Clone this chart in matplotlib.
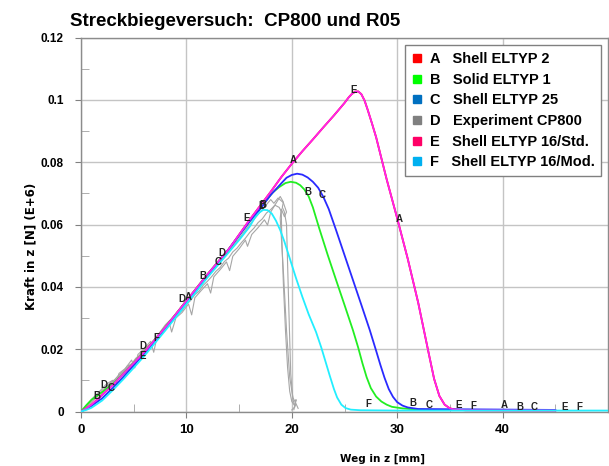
#Streckbiegeversuch plot
'''
Force over displacement for the stretch-bend test,
simulation curves A-F plus the experiment traces.
'''
import matplotlib
matplotlib.use('Agg')
import matplotlib.pyplot as plt
from matplotlib.lines import Line2D

# ---- simulation curves (Weg in mm, Kraft in E+6 N) ----
weg_e = [0, 0.5, 1, 1.5, 2, 3, 4, 5, 6, 8, 10, 12, 14, 16, 17, 18, 19, 20, 21, 22, 23, 24, 25,
         25.4, 25.7, 26.0, 26.3, 26.6, 26.9, 27.2, 27.6, 28, 29, 30, 31, 32, 33, 33.5, 34, 34.5,
         35, 35.5, 36.5, 45]
kraft_e = [0, 0.001, 0.0022, 0.0037, 0.0053, 0.0085, 0.012, 0.0155, 0.019, 0.027, 0.0355, 0.044,
           0.052, 0.0615, 0.066, 0.0705, 0.0752, 0.0795, 0.0835, 0.0873, 0.0912, 0.095, 0.099,
           0.1008, 0.1019, 0.1026, 0.1027, 0.1018, 0.0998, 0.0968, 0.0925, 0.088, 0.0745, 0.062,
           0.049, 0.0348, 0.0185, 0.0105, 0.005, 0.0022, 0.001, 0.0006, 0.0004, 0.0003]

# A lies right under E
weg_a = list(weg_e)
kraft_a = list(kraft_e)

weg_b = [0, 0.5, 1, 2, 3, 4, 5, 6, 8, 10, 12, 14, 16, 17, 17.6, 18.2, 18.8, 19.4, 19.9, 20.4,
         20.8, 21.2, 21.6, 22.0, 22.6, 23.4, 24.2, 25.0, 25.8, 26.3, 26.7, 27.1, 27.5, 28.0,
         28.5, 29.0, 29.5, 30.5, 32, 34]
kraft_b = [0, 0.002, 0.0038, 0.0062, 0.0088, 0.012, 0.0155, 0.019, 0.027, 0.0355, 0.044, 0.052,
           0.061, 0.065, 0.0678, 0.0703, 0.072, 0.0733, 0.0737, 0.0734, 0.0726, 0.0712, 0.069,
           0.0655, 0.0588, 0.0503, 0.0422, 0.0342, 0.0261, 0.0205, 0.0155, 0.011, 0.0075,
           0.0048, 0.0032, 0.0022, 0.0015, 0.001, 0.0006, 0.0005]

weg_c = [0, 0.5, 1, 2, 3, 4, 5, 6, 8, 10, 12, 14, 16, 17, 18, 19, 19.5, 20.0, 20.5, 21.0, 21.5,
         22.0, 22.5, 23.0, 23.5, 24.2, 25, 25.8, 26.6, 27.4, 28, 28.4, 28.8, 29.2, 29.6, 30.0,
         30.5, 31, 32, 45]
kraft_c = [0, 0.0008, 0.0018, 0.0042, 0.0075, 0.011, 0.0148, 0.0185, 0.0268, 0.0352, 0.0438,
           0.052, 0.061, 0.065, 0.0695, 0.0732, 0.075, 0.0759, 0.0763, 0.076, 0.0751, 0.0737,
           0.0718, 0.0688, 0.065, 0.0582, 0.0502, 0.0422, 0.0342, 0.0261, 0.0195, 0.015, 0.0108,
           0.0072, 0.0047, 0.003, 0.0019, 0.0013, 0.0008, 0.0005]

weg_f = [0, 0.5, 1, 2, 3, 4, 5, 6, 8, 10, 12, 14, 15, 16, 16.5, 16.9, 17.3, 17.7, 18.1, 18.5,
         18.9, 19.3, 19.8, 20.4, 21.0, 21.6, 22.3, 22.8, 23.2, 23.6, 24.0, 24.3, 24.7, 25.1,
         25.6, 26.5, 30, 50]
kraft_f = [0, 0.0005, 0.0012, 0.0035, 0.0068, 0.0103, 0.014, 0.0178, 0.026, 0.0345, 0.043, 0.051,
           0.055, 0.0593, 0.0622, 0.0638, 0.0647, 0.0646, 0.0635, 0.0612, 0.0582, 0.0545,
           0.0492, 0.0428, 0.0368, 0.0312, 0.0255, 0.0205, 0.016, 0.0115, 0.0072, 0.0045,
           0.0022, 0.0011, 0.0006, 0.0004, 0.0003, 0.0003]

# ---- experiment traces (D) ----
weg_d1 = [0, 0.4, 0.8, 1.2, 1.6, 2.0, 2.4, 2.8, 3.2, 3.6, 4.0, 4.4, 4.8, 5.2, 5.6, 6.0, 6.4, 6.8,
          7.2, 7.6, 8.0, 8.4, 8.8, 9.2, 9.6, 10.0, 10.4, 10.8, 11.2, 11.6, 12.0, 12.4, 12.8, 13.2,
          13.6, 14.0, 14.4, 14.8, 15.2, 15.6, 16.0, 16.4, 16.8, 17.2, 17.6, 18.0, 18.4, 18.8,
          19.0, 19.05, 19.2, 19.4, 19.6, 19.8, 20.0, 20.3, 20.4, 20.2]
kraft_d1 = [0, 0.0012, 0.0026, 0.004, 0.0052, 0.0068, 0.0079, 0.0093, 0.0102, 0.0118, 0.0128,
            0.0146, 0.0152, 0.0171, 0.018, 0.0198, 0.021, 0.0222, 0.0241, 0.025, 0.0268, 0.0282,
            0.0296, 0.0313, 0.0324, 0.0344, 0.0356, 0.0375, 0.0386, 0.0405, 0.0418, 0.0433,
            0.045, 0.0462, 0.0481, 0.0492, 0.0512, 0.0524, 0.0541, 0.0556, 0.0574, 0.0588,
            0.0606, 0.0618, 0.0637, 0.0648, 0.0662, 0.0655, 0.0642, 0.056, 0.041, 0.026, 0.014,
            0.0065, 0.0032, 0.0018, 0.0038, 0.0006]

weg_d2 = [0, 0.6, 1.2, 1.8, 2.4, 3.0, 3.3, 3.6, 4.2, 4.8, 5.1, 5.4, 6.0, 6.6, 6.9, 7.2, 7.8, 8.4,
          8.6, 9.0, 9.6, 10.2, 10.5, 10.8, 11.4, 12.0, 12.3, 12.6, 13.2, 13.8, 14.1, 14.4, 15.0,
          15.6, 15.8, 16.2, 16.8, 17.4, 17.7, 18.0, 18.5, 18.9, 19.2, 19.1, 19.3, 19.5, 19.7,
          19.9, 20.1, 20.3, 20.0]
kraft_d2 = [0, 0.0022, 0.0046, 0.0066, 0.0088, 0.01, 0.0082, 0.0122, 0.0138, 0.0165, 0.014,
            0.0183, 0.0202, 0.0225, 0.019, 0.0238, 0.0262, 0.0282, 0.0255, 0.03, 0.0318, 0.0345,
            0.031, 0.0365, 0.0388, 0.041, 0.038, 0.0432, 0.0455, 0.048, 0.0452, 0.0498, 0.0522,
            0.055, 0.053, 0.0568, 0.059, 0.0615, 0.0598, 0.064, 0.0668, 0.069, 0.0672, 0.0655,
            0.064, 0.06, 0.035, 0.012, 0.004, 0.0015, 0.0005]

weg_d3 = [0, 1, 2, 3, 4, 5, 6, 7, 8, 9, 10, 11, 12, 13, 14, 15, 16, 17, 17.5, 18.0, 18.3, 18.7,
          19.2, 19.5, 19.3, 19.0, 18.9, 19.2, 19.5, 19.8, 20.1, 20.4, 20.6]
kraft_d3 = [0, 0.003, 0.0062, 0.0095, 0.0128, 0.016, 0.0198, 0.0232, 0.0278, 0.0312, 0.0358,
            0.0392, 0.0438, 0.047, 0.0515, 0.0555, 0.06, 0.064, 0.066, 0.068, 0.0668, 0.0685,
            0.067, 0.064, 0.0625, 0.065, 0.062, 0.045, 0.026, 0.011, 0.0045, 0.0025, 0.001]

# letters written along the curves (letter, weg, kraft)
curve_tags = [('B', 1.5, 0.005), ('D', 2.2, 0.0085), ('C', 2.9, 0.0075),
              ('D', 5.85, 0.021), ('E', 5.85, 0.0178), ('F', 7.1, 0.0236),
              ('D', 9.6, 0.036), ('A', 10.15, 0.0367), ('B', 11.6, 0.0435),
              ('C', 13.0, 0.048), ('D', 13.4, 0.051), ('E', 15.7, 0.062),
              ('D', 17.2, 0.066), ('B', 17.25, 0.0662), ('A', 20.1, 0.0806),
              ('B', 21.5, 0.0705), ('C', 22.9, 0.0695), ('E', 25.9, 0.1031),
              ('A', 30.2, 0.0618),
              ('F', 27.3, 0.0024), ('B', 31.5, 0.0027), ('C', 33.0, 0.0022),
              ('E', 35.8, 0.0022), ('F', 37.2, 0.0019), ('A', 40.2, 0.0022),
              ('B', 41.6, 0.0016), ('C', 43.0, 0.0016), ('E', 45.9, 0.0016),
              ('F', 47.3, 0.0016)]

legend_names = ['A   Shell ELTYP 2', 'B   Solid ELTYP 1', 'C   Shell ELTYP 25',
                'D   Experiment CP800', 'E   Shell ELTYP 16/Std.', 'F   Shell ELTYP 16/Mod.']
legend_colors = ['#ff0000', '#00ff00', '#0070c0', '#808080', '#ff0066', '#00b0f0']

x_ticks = [0, 10, 20, 30, 40]
y_ticks = [0, 0.02, 0.04, 0.06, 0.08, 0.1, 0.12]
y_tick_labels = ['0', '0.02', '0.04', '0.06', '0.08', '0.1', '0.12']

fig = plt.figure(figsize=(6.09, 4.66), dpi=100)
ax = fig.add_axes([81 / 609, 1 - 411.5 / 466, 527 / 609, 374 / 466])

lw = 1.3
for wx, ky in [(weg_d1, kraft_d1), (weg_d2, kraft_d2), (weg_d3, kraft_d3)]:
    ax.plot(wx, ky, color='#a6a6a6', lw=0.8, zorder=2)
ax.plot(weg_a, kraft_a, color='#ff0000', lw=lw, zorder=3)
ax.plot(weg_b, kraft_b, color='#22ee22', lw=lw, zorder=4)
ax.plot(weg_c, kraft_c, color='#2a2aff', lw=lw, zorder=4)
ax.plot(weg_e, kraft_e, color='#ff22ee', lw=lw, zorder=5)
ax.plot(weg_f, kraft_f, color='#22eeff', lw=lw, zorder=6)

for letter, wx, ky in curve_tags:
    ax.text(wx, ky, letter, fontsize=7, fontweight='bold', family='Liberation Sans',
            color='#222222', ha='center', va='center', zorder=7)

ax.set_xlim(0, 50)
ax.set_ylim(0, 0.12)
ax.set_xticks(x_ticks)
ax.set_xticks([5, 15, 25, 35, 45], minor=True)
ax.set_yticks(y_ticks)
ax.set_yticks([0.01, 0.03, 0.05, 0.07, 0.09, 0.11], minor=True)
ax.set_yticklabels(y_tick_labels)
ax.grid(True, which='major', color='#c4c4c4', lw=1)
ax.set_axisbelow(True)
ax.tick_params(which='major', direction='out', length=4, color='#808080')
ax.tick_params(which='minor', direction='in', length=6, color='#a0a0a0')
ax.tick_params(axis='y', which='major', pad=8.5)
ax.tick_params(axis='x', which='major', pad=5)
for lab in ax.get_xticklabels():
    lab.set_fontfamily('Liberation Sans')
    lab.set_fontweight('bold')
    lab.set_fontsize(9.5)
for lab in ax.get_yticklabels():
    lab.set_fontfamily('Liberation Sans')
    lab.set_fontweight('bold')
    lab.set_fontsize(8.5)
for sp in ax.spines.values():
    sp.set_color('#8c8c8c')
    sp.set_linewidth(1)

handles = [Line2D([], [], ls='none', marker='s', markersize=6, markerfacecolor=c,
                  markeredgecolor=c) for c in legend_colors]
leg = ax.legend(handles, legend_names, loc='upper left', bbox_to_anchor=(0.615, 0.979),
                prop={'family': 'Liberation Sans', 'weight': 'bold', 'size': 10.5},
                fancybox=False, framealpha=1, edgecolor='#808080', labelspacing=0.46,
                handlelength=0.7, handletextpad=0.55, borderpad=0.45, borderaxespad=0)
leg.get_frame().set_linewidth(1)

fig.text(70 / 609, 1 - 21 / 466, 'Streckbiegeversuch:  CP800 und R05', family='Liberation Sans',
         fontweight='bold', fontsize=13.5, ha='left', va='center')
fig.text(31 / 609, 1 - 246 / 466, 'Kraft in z [N] (E+6)', rotation=90, fontsize=8.5,
         fontweight='bold', ha='center', va='center')
fig.text(382 / 609, 1 - 459 / 466, 'Weg in z [mm]', fontsize=7.5, fontweight='bold',
         ha='center', va='center')

fig.savefig('out.png', dpi=100)
